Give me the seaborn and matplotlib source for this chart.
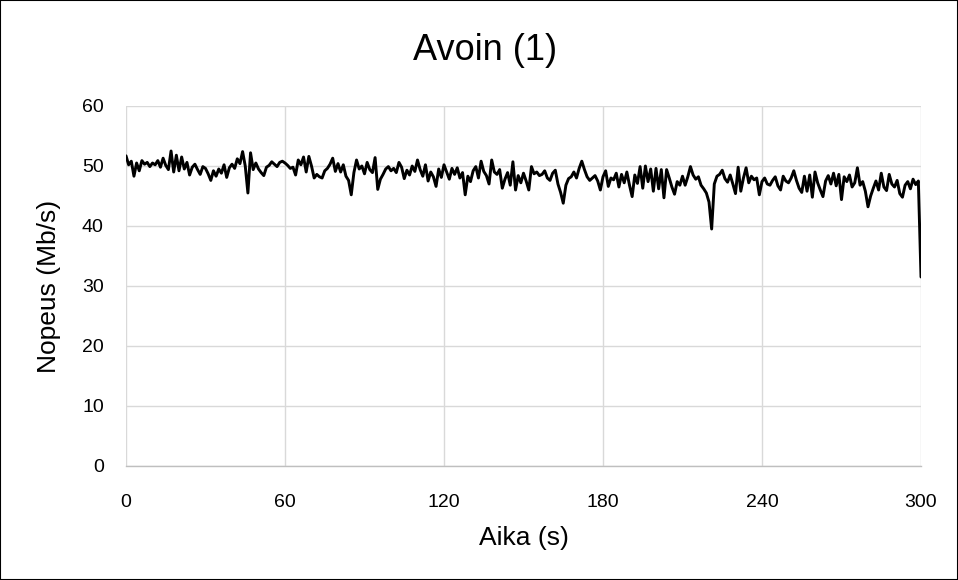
import numpy as np
import pandas as pd
import matplotlib
matplotlib.use("Agg")
import matplotlib.pyplot as plt
import seaborn as sns
from matplotlib.patches import Rectangle

# Nopeus (Mb/s) sekunnin välein, luettu kuvasta
nopeus = [
    51.7, 50.2, 50.8, 48.3, 50.5, 49.2, 50.9, 50.3, 50.6, 49.9,
    50.5, 50.2, 50.9, 49.8, 51.3, 50.1, 49.4, 52.5, 49.0, 51.8,
    49.2, 51.5, 49.5, 50.6, 48.5, 49.8, 50.3, 49.4, 48.6, 49.9,
    49.6, 48.7, 47.6, 49.2, 48.3, 49.5, 48.8, 50.2, 48.1, 49.7,
    50.3, 49.6, 51.2, 50.4, 52.4, 50.0, 45.5, 52.2, 49.4, 50.5,
    49.5, 48.9, 48.4, 49.8, 50.1, 50.7, 50.3, 49.9, 50.6, 50.8,
    50.5, 50.1, 49.6, 49.8, 48.5, 51.0, 50.2, 51.5, 49.0, 51.6,
    50.0, 48.0, 48.6, 48.2, 48.0, 49.2, 49.6, 50.3, 51.3, 49.1,
    50.4, 49.0, 50.2, 48.3, 47.6, 45.2, 48.9, 51.0, 49.5, 50.0,
    48.7, 50.6, 49.4, 48.9, 51.4, 46.1, 47.8, 48.6, 49.5, 49.9,
    49.2, 49.6, 48.9, 50.6, 49.8, 47.9, 49.3, 48.5, 50.0, 49.1,
    51.0, 49.4, 48.3, 50.2, 47.5, 49.0, 48.2, 46.6, 49.5, 48.1,
    50.2, 49.0, 47.8, 49.6, 48.6, 49.7, 48.0, 48.9, 45.2, 48.3,
    47.4, 49.2, 49.9, 48.0, 50.8, 49.1, 48.4, 47.0, 51.0, 49.0,
    48.6, 49.4, 46.3, 47.8, 48.9, 46.8, 50.7, 46.0, 48.4, 47.2,
    48.8, 47.5, 46.0, 49.9, 48.7, 49.0, 48.4, 48.6, 49.2, 48.0,
    47.6, 48.8, 49.3, 47.0, 45.6, 43.8, 46.8, 47.9, 48.2, 49.0,
    48.0, 49.6, 50.8, 49.4, 48.2, 47.6, 48.0, 48.4, 47.5, 46.0,
    48.2, 49.2, 46.6, 48.0, 47.7, 48.8, 46.5, 48.6, 47.2, 49.0,
    46.8, 44.9, 48.5, 47.1, 49.9, 46.3, 50.0, 47.4, 49.5, 45.8,
    49.6, 46.2, 49.4, 44.7, 49.4, 48.0, 46.5, 45.3, 47.4, 46.8,
    48.3, 46.8, 48.2, 49.9, 48.5, 47.8, 48.2, 46.8, 46.2, 45.5,
    44.0, 39.5, 47.0, 48.3, 48.6, 49.3, 47.9, 47.3, 48.5, 47.0,
    45.4, 49.8, 45.8, 48.0, 49.7, 47.2, 48.3, 47.7, 48.0, 45.2,
    47.4, 48.0, 47.0, 46.8, 47.6, 48.2, 46.7, 46.0, 48.3, 47.5,
    47.2, 48.0, 49.2, 47.6, 46.3, 45.6, 48.3, 45.8, 48.5, 44.8,
    49.0, 47.2, 46.0, 44.9, 47.5, 48.4, 47.0, 48.8, 46.7, 48.6,
    44.4, 48.2, 47.4, 48.5, 46.5, 47.2, 49.7, 46.8, 47.4, 45.8,
    43.2, 45.0, 46.3, 47.5, 46.0, 48.8, 46.5, 45.9, 48.6, 47.0,
    46.5, 47.6, 45.4, 44.8, 46.8, 47.4, 46.2, 47.8, 46.9, 47.5,
    31.5,
]
aika = list(range(len(nopeus)))

x_ticks = [0, 60, 120, 180, 240, 300]
y_ticks = [0, 10, 20, 30, 40, 50, 60]

df = pd.DataFrame({"Aika": aika, "Nopeus": nopeus})

sns.set_style("white")
plt.rcParams["font.family"] = ["Liberation Sans", "DejaVu Sans"]
plt.rcParams["text.color"] = "black"
plt.rcParams["axes.labelcolor"] = "black"

fig = plt.figure(figsize=(9.58, 5.80), dpi=100)
ax = fig.add_axes([126 / 958, 1 - 466 / 580, (921 - 126) / 958, (466 - 106) / 580])

sns.lineplot(data=df, x="Aika", y="Nopeus", color="black", linewidth=2.1, ax=ax)

ax.set_xlim(0, 300)
ax.set_ylim(0, 60)
ax.set_xticks(x_ticks)
ax.set_yticks(y_ticks)
ax.grid(True, color="#d9d9d9", linewidth=1.0)
ax.set_axisbelow(True)

for side in ["top", "right", "left"]:
    ax.spines[side].set_visible(False)
ax.spines["bottom"].set_color("#bfbfbf")
ax.spines["bottom"].set_linewidth(1.0)

ax.tick_params(axis="x", length=4, color="#bfbfbf", labelsize=14, pad=16, labelcolor="black")
ax.tick_params(axis="y", length=0, labelsize=14, pad=16, labelcolor="black")

ax.set_xlabel("Aika (s)", fontsize=19)
ax.set_ylabel("Nopeus (Mb/s)", fontsize=19)
ax.xaxis.label.set_va("center")
ax.yaxis.label.set_va("center")
ax.xaxis.set_label_coords(0.5, -72 / 360)
ax.yaxis.set_label_coords(-77 / 795, 0.5)

fig.text(485 / 958, 1 - 50 / 580, "Avoin (1)", fontsize=26, ha="center", va="center")

# ulkoreunus
fig.patches.append(Rectangle((0, 0), 1, 1, transform=fig.transFigure,
                             fill=False, edgecolor="black", linewidth=1.5))

fig.savefig("out.png", dpi=100)
